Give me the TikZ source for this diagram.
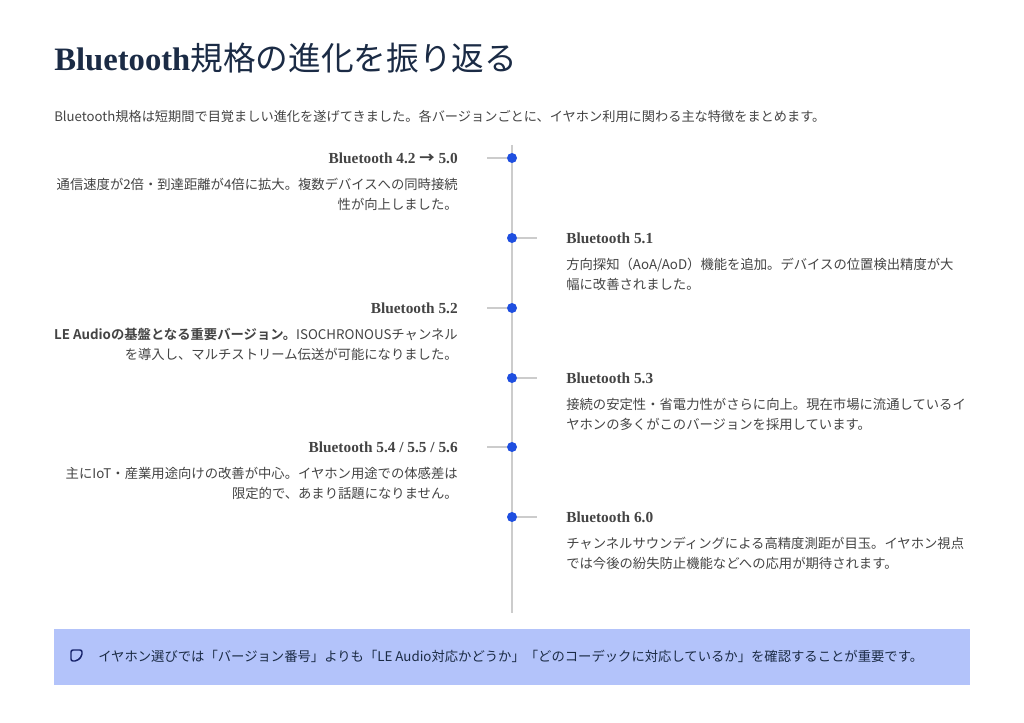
\documentclass[tikz,border=0pt]{standalone}
\usepackage{fontspec}
\setmainfont{Liberation Serif}
\newfontfamily\jp{Noto Sans CJK JP}
\newfontfamily\jpbold{Noto Sans CJK JP Bold}
\usetikzlibrary{positioning}
\definecolor{navy}{HTML}{1B2B45}
\definecolor{txtgray}{HTML}{444444}
\definecolor{dotblue}{HTML}{1F4FE0}
\definecolor{linegray}{HTML}{CCCCCC}
\definecolor{notebg}{HTML}{B3C3FA}
\tikzset{
  verhead/.style={font=\fontsize{11.5}{13}\selectfont\bfseries, text=txtgray, inner sep=0pt},
  verdesc/.style={font=\jp\fontsize{10}{15}\selectfont, text=txtgray, inner sep=0pt},
  tick/.style={linegray, line width=0.8pt},
  vdot/.style={circle, fill=dotblue, minimum size=7.5pt, inner sep=0pt}
}
\begin{document}
\begin{tikzpicture}[x=0.75pt, y=-0.75pt]
    \useasboundingbox (0,0) rectangle (1024,723);
    \fill[white] (0,0) rectangle (1024,723);
    
    \node[anchor=west, inner sep=0pt, text=navy] (title) at (54,58) {\fontsize{24.5}{28}\selectfont\bfseries Bluetooth\jp\mdseries 規格の進化を振り返る};
    \node[anchor=west, verdesc, font=\jp\fontsize{9.9}{12}\selectfont] (intro) at (54,116) {Bluetooth規格は短期間で目覚ましい進化を遂げてきました。各バージョンごとに、イヤホン利用に関わる主な特徴をまとめます。};
    
    % timeline
    \coordinate (top) at (512,145);
    \coordinate (bot) at (512,613);
    \draw[linegray, line width=1pt] (top) -- (bot);
    
    % left entries
    \foreach \name/\y in {a/158, c/308, e/447} {
      \coordinate (\name tk) at (487,\y);
      \node[vdot] (\name) at (512,\y) {};
      \draw[tick] (\name tk) -- (\name);
    }
    % right entries
    \foreach \name/\y in {b/238, d/378, f/517} {
      \coordinate (\name tk) at (537,\y);
      \node[vdot] (\name) at (512,\y) {};
      \draw[tick] (\name) -- (\name tk);
    }
    
    \node[verhead, anchor=east] (ah) at (458,158) {Bluetooth 4.2 {\jp →} 5.0};
    \node[verdesc, anchor=north east, align=right] (ad) at (458,178) {通信速度が2倍・到達距離が4倍に拡大。複数デバイスへの同時接続\\性が向上しました。};
    
    \node[verhead, anchor=west] (bh) at (566,238) {Bluetooth 5.1};
    \node[verdesc, anchor=north west, align=left] (bd) at (566,258) {方向探知（AoA/AoD）機能を追加。デバイスの位置検出精度が大\\幅に改善されました。};
    
    \node[verhead, anchor=east] (ch) at (458,308) {Bluetooth 5.2};
    \node[verdesc, anchor=north east, align=right] (cd) at (458,328) {{\jpbold LE Audioの基盤となる重要バージョン。}ISOCHRONOUSチャンネル\\を導入し、マルチストリーム伝送が可能になりました。};
    
    \node[verhead, anchor=west] (dh) at (566,378) {Bluetooth 5.3};
    \node[verdesc, anchor=north west, align=left] (dd) at (566,398) {接続の安定性・省電力性がさらに向上。現在市場に流通しているイ\\ヤホンの多くがこのバージョンを採用しています。};
    
    \node[verhead, anchor=east] (eh) at (458,447) {Bluetooth 5.4 / 5.5 / 5.6};
    \node[verdesc, anchor=north east, align=right] (ed) at (458,467) {主にIoT・産業用途向けの改善が中心。イヤホン用途での体感差は\\限定的で、あまり話題になりません。};
    
    \node[verhead, anchor=west] (fh) at (566,517) {Bluetooth 6.0};
    \node[verdesc, anchor=north west, align=left] (fd) at (566,537) {チャンネルサウンディングによる高精度測距が目玉。イヤホン視点\\では今後の紛失防止機能などへの応用が期待されます。};
    
    % note box
    \fill[notebg] (54,629) rectangle (970,685);
    \draw[navy!80!blue, line width=1.1pt, rounded corners=1.5pt] (71,661) -- (71,650) -- (82,650) -- (82,656) -- (77,661) -- cycle;
    \node[verdesc, anchor=west, text=navy] (note) at (98,656) {イヤホン選びでは「バージョン番号」よりも「LE Audio対応かどうか」「どのコーデックに対応しているか」を確認することが重要です。};
\end{tikzpicture}
\end{document}
